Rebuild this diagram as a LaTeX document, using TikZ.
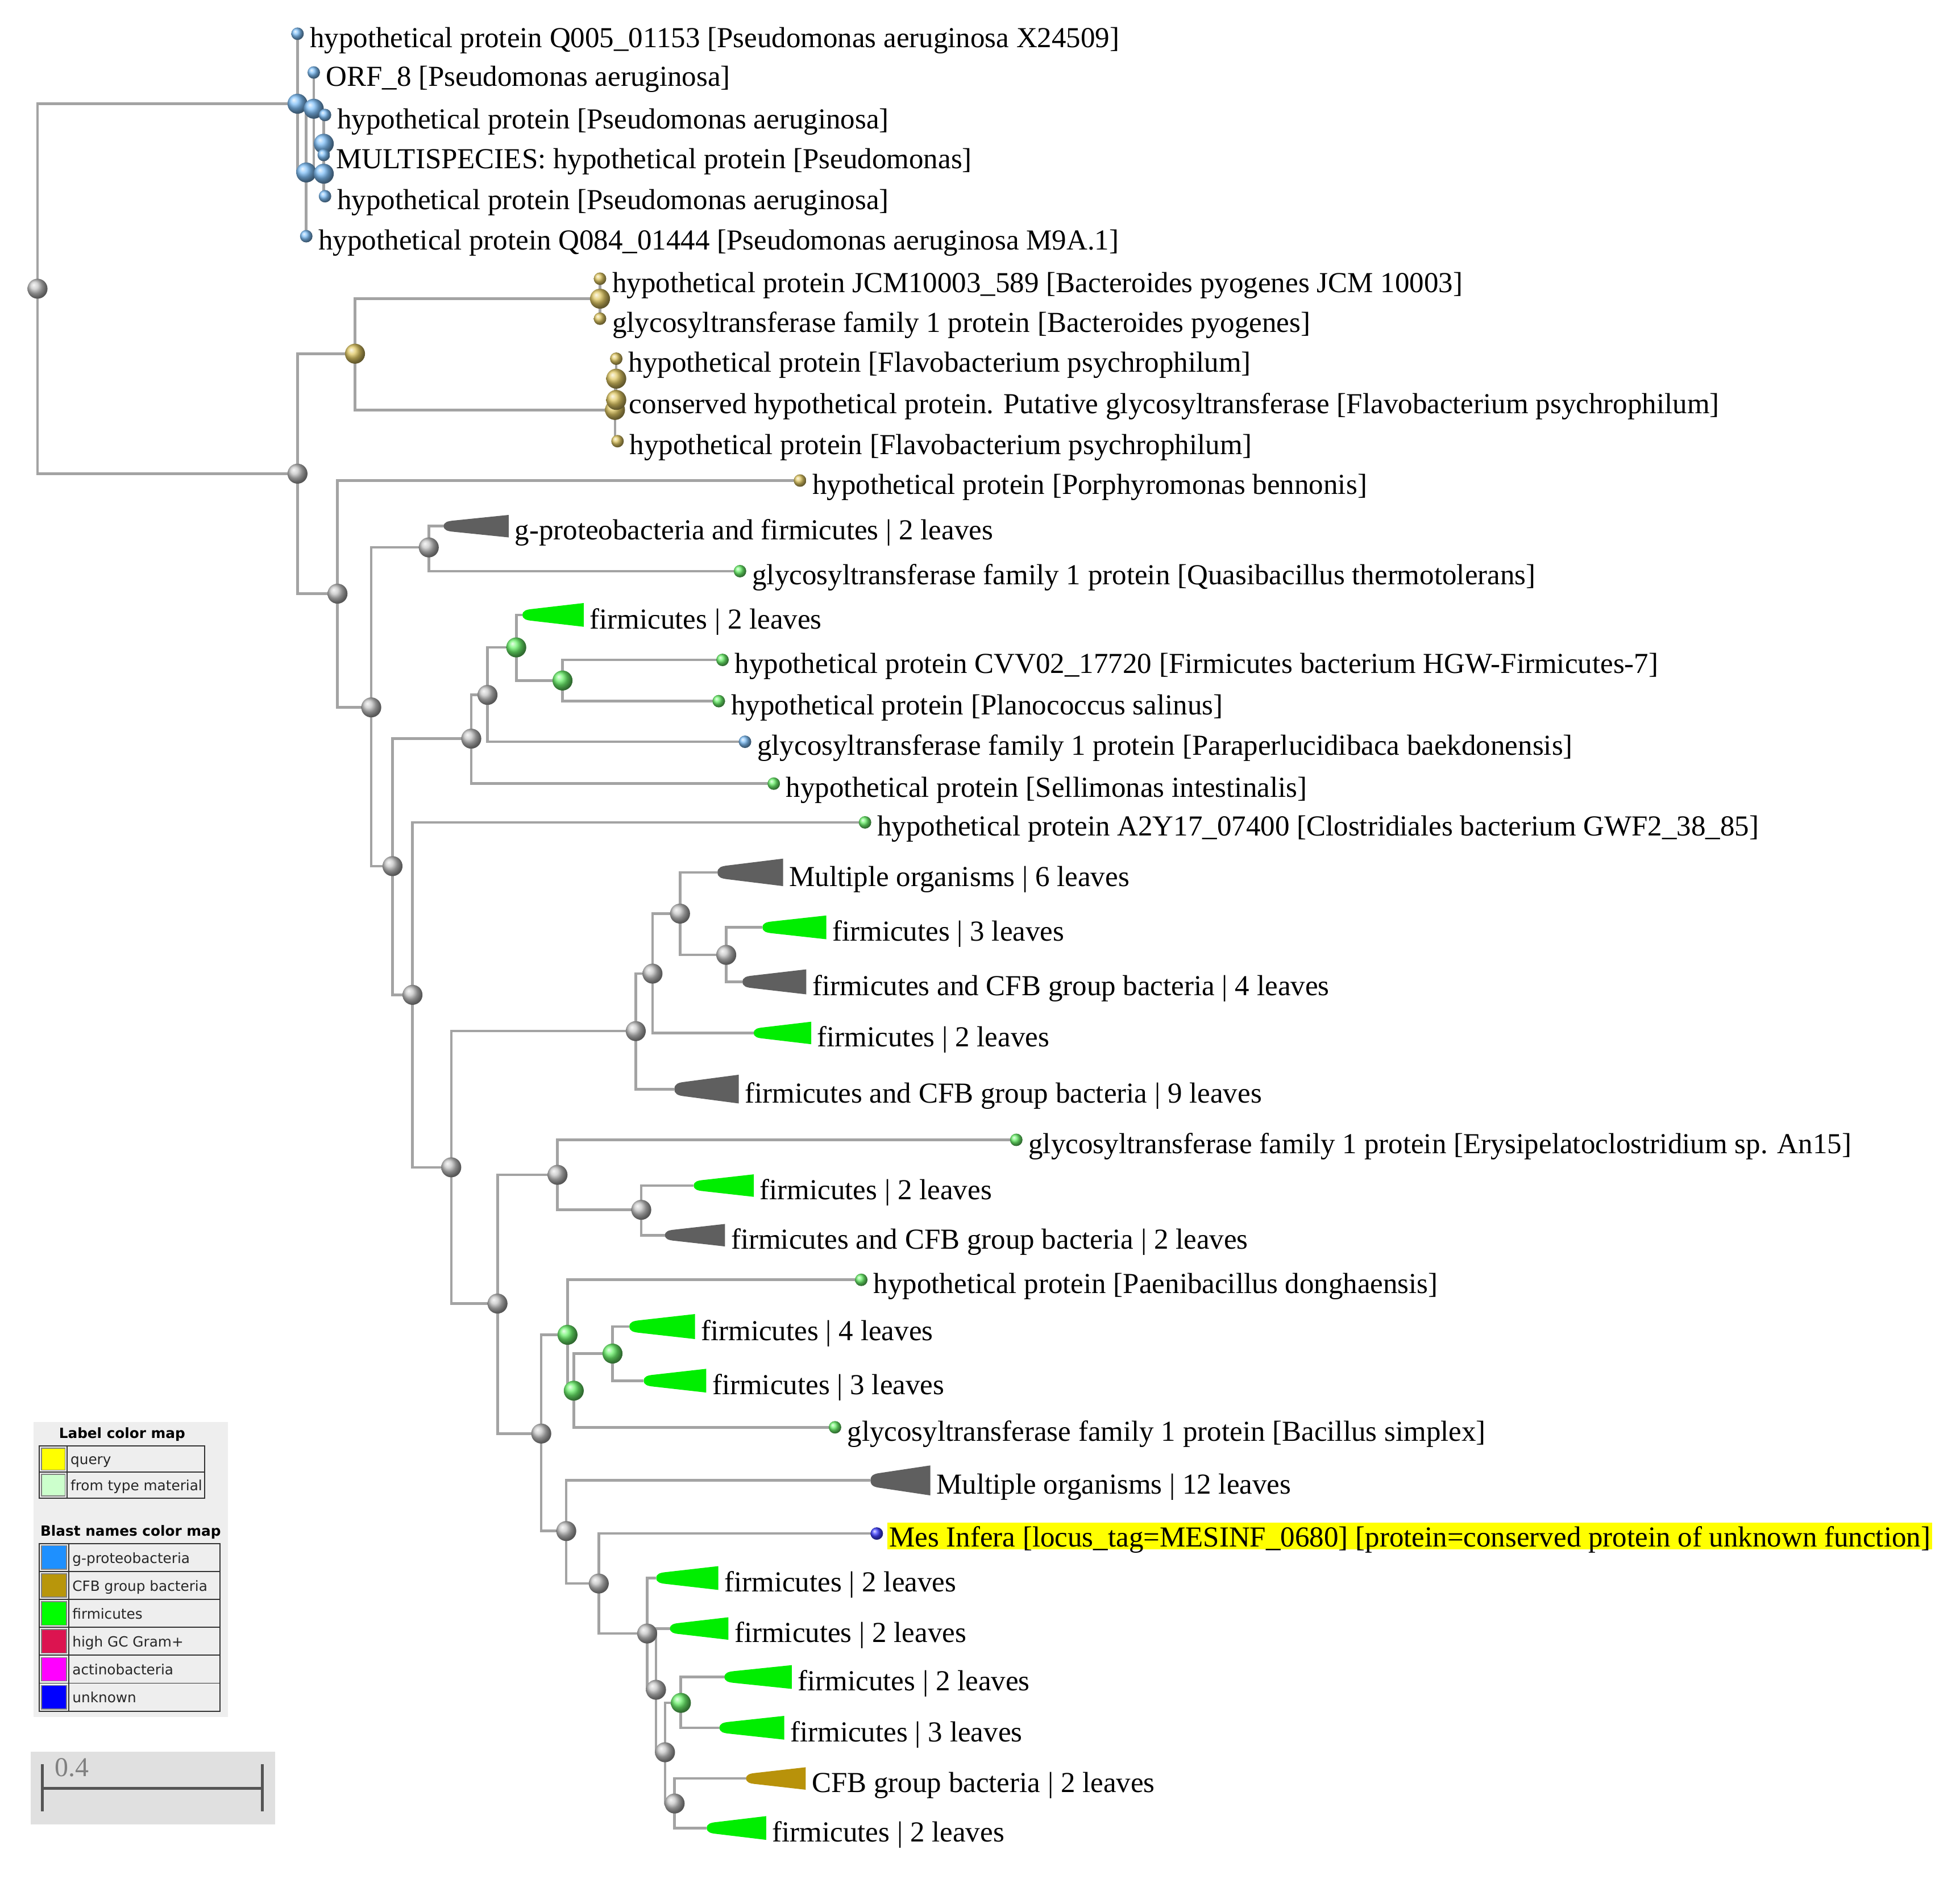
\documentclass[tikz,border=0pt]{standalone}
\usepackage{fontspec}
\setmainfont{Liberation Serif}
\newfontfamily\legendfont{DejaVu Sans}
\usepackage{xcolor}
\definecolor{branchGray}{HTML}{A3A3A3}
\definecolor{cladeGray}{HTML}{5F5F5F}
\definecolor{cladeGreen}{HTML}{00EE00}
\definecolor{cladeGold}{HTML}{B8920A}
\definecolor{ballBlue}{HTML}{80C0F8}
\definecolor{ballGold}{HTML}{E0C864}
\definecolor{ballGreen}{HTML}{6CF26C}
\definecolor{ballGray}{HTML}{C4C4C4}
\definecolor{ballNavy}{HTML}{4040FF}
\definecolor{queryYellow}{HTML}{FFFF00}
\definecolor{typeGreen}{HTML}{CCFFCC}
\definecolor{gproBlue}{HTML}{1E90FF}
\definecolor{cfbGold}{HTML}{B8960B}
\definecolor{firmGreen}{HTML}{00FF00}
\definecolor{highGC}{HTML}{DC1450}
\definecolor{actinoPink}{HTML}{FF00FF}
\definecolor{unknownBlue}{HTML}{0000FF}
\definecolor{legendBg}{HTML}{EEEEEE}
\definecolor{scaleBg}{HTML}{E0E0E0}
\definecolor{scaleDark}{HTML}{555555}
\usetikzlibrary{backgrounds,calc}
\newcommand{\treefont}{\fontsize{13.2}{15}\selectfont}
\newcommand{\legfont}{\legendfont\fontsize{6.4}{8}\selectfont}
\tikzset{%
  branch/.style={%
    draw=branchGray,
    line width=1.2pt
  },
  inball/.style={%
    circle,
    inner sep=0pt,
    minimum size=0.32cm,
    shading=ball,
    ball color=#1
  },
  lfball/.style={%
    circle,
    inner sep=0pt,
    minimum size=0.2cm,
    shading=ball,
    ball color=#1
  },
  leaftext/.style={%
    anchor=base west,
    inner sep=0pt,
    font=\treefont
  },
  legtext/.style={%
    anchor=base west,
    inner sep=0pt,
    font=\legfont,
    text=black!85
  },
  tableline/.style={%
    draw=black!80,
    line width=0.5pt
  },
  scaleBar/.style={%
    draw=scaleDark,
    line width=1.4pt
  }
}
% leaf: name, ball colour, x, y, text
\newcommand{\treeleaf}[5]{%
  \node[lfball=#2] (#1) at (#3,#4) {};
  \node[leaftext] (#1-t) at (#3+9.5,#4+10.8) {#5};}
% collapsed clade: name, colour, tip x, y, right x, half height, text
\newcommand{\collapsed}[7]{%
  \coordinate (#1) at (#3,#4);
  \fill[#2] (#1) .. controls (#3,#4-0.35*#6) and (#3+3,#4-0.45*#6) .. (#3+8,#4-0.5*#6)
    -- (#5,#4-#6) -- (#5,#4+#6) -- (#3+8,#4+0.5*#6)
    .. controls (#3+3,#4+0.45*#6) and (#3,#4+0.35*#6) .. (#1) -- cycle;
  \node[leaftext] (#1-t) at (#5+4.5,#4+11) {#7};}

\begin{document}
\begin{tikzpicture}[x=0.02cm, y=-0.02cm]
  \useasboundingbox (0,0) rectangle (1568,1503);

  % inner nodes
  \node[inball=ballGray] (root) at (30,231) {};
  \node[inball=ballBlue] (pA) at (238,83) {};
  \node[inball=ballBlue] (pD) at (245,138) {};
  \node[inball=ballBlue] (pB) at (251,87) {};
  \node[inball=ballBlue] (pE) at (259,139) {};
  \node[inball=ballBlue] (pC) at (259,115) {};
  \node[inball=ballGray] (n1) at (238,379) {};
  \node[inball=ballGold] (gG) at (284,283) {};
  \node[inball=ballGold] (gJ) at (480,239) {};
  \node[inball=ballGold] (gF) at (492,328) {};
  \node[inball=ballGold] (gF2) at (493,303) {};
  \node[inball=ballGray] (n2) at (270,475) {};
  \node[inball=ballGray] (n3) at (297,566) {};
  \node[inball=ballGray] (n4) at (343,438) {};
  \node[inball=ballGray] (n5) at (314,693) {};
  \node[inball=ballGray] (n6) at (377,591) {};
  \node[inball=ballGray] (n8) at (390,556) {};
  \node[inball=ballGreen] (G1) at (413,518) {};
  \node[inball=ballGreen] (G2) at (450,544.5) {};
  \node[inball=ballGray] (n7) at (330,796) {};
  \node[inball=ballGray] (n9) at (361,934) {};
  \node[inball=ballGray] (n10) at (508.6,825) {};
  \node[inball=ballGray] (n12) at (522,779) {};
  \node[inball=ballGray] (n13) at (544,731) {};
  \node[inball=ballGray] (n14) at (581,764) {};
  \node[inball=ballGray] (n11) at (398,1043) {};
  \node[inball=ballGray] (n15) at (446,940) {};
  \node[inball=ballGray] (n17) at (513,968) {};
  \node[inball=ballGray] (n16) at (433,1147) {};
  \node[inball=ballGreen] (G3) at (454,1068) {};
  \node[inball=ballGreen] (G4) at (459,1112.7) {};
  \node[inball=ballGreen] (G5) at (490,1083) {};
  \node[inball=ballGray] (n18) at (453,1225) {};
  \node[inball=ballGray] (n19) at (479,1267) {};
  \node[inball=ballGray] (n20) at (517.7,1307) {};
  \node[inball=ballGray] (n21) at (524.8,1352) {};
  \node[inball=ballGray] (n22) at (532,1402) {};
  \node[inball=ballGreen] (G6) at (544.7,1362.5) {};
  \node[inball=ballGray] (n23) at (539.7,1443) {};

  % leaves
  \treeleaf{bQ005}{ballBlue}{238}{27}{hypothetical protein Q005\_01153 [Pseudomonas aeruginosa X24509]}
  \treeleaf{bORF}{ballBlue}{251}{58}{ORF\_8 [Pseudomonas aeruginosa]}
  \treeleaf{bH1}{ballBlue}{260}{92}{hypothetical protein [Pseudomonas aeruginosa]}
  \treeleaf{bMS}{ballBlue}{259}{124}{MULTISPECIES: hypothetical protein [Pseudomonas]}
  \treeleaf{bH2}{ballBlue}{260}{157}{hypothetical protein [Pseudomonas aeruginosa]}
  \treeleaf{bQ084}{ballBlue}{245}{189}{hypothetical protein Q084\_01444 [Pseudomonas aeruginosa M9A.1]}
  \treeleaf{gJ1}{ballGold}{480}{223}{hypothetical protein JCM10003\_589 [Bacteroides pyogenes JCM 10003]}
  \treeleaf{gJ2}{ballGold}{480}{255}{glycosyltransferase family 1 protein [Bacteroides pyogenes]}
  \treeleaf{gL1}{ballGold}{493}{287}{hypothetical protein [Flavobacterium psychrophilum]}
  \node[inball=ballGold] (gL2) at (493,320) {};
  \node[leaftext] (gL2-t) at (503,331) {conserved hypothetical protein. Putative glycosyltransferase [Flavobacterium psychrophilum]};
  \treeleaf{gL3}{ballGold}{494}{353}{hypothetical protein [Flavobacterium psychrophilum]}
  \treeleaf{gPorph}{ballGold}{640}{384.5}{hypothetical protein [Porphyromonas bennonis]}
  \treeleaf{gQuasi}{ballGreen}{592}{457}{glycosyltransferase family 1 protein [Quasibacillus thermotolerans]}
  \treeleaf{gCVV}{ballGreen}{578}{528}{hypothetical protein CVV02\_17720 [Firmicutes bacterium HGW-Firmicutes-7]}
  \treeleaf{gPlano}{ballGreen}{575}{561}{hypothetical protein [Planococcus salinus]}
  \treeleaf{bPara}{ballBlue}{596}{593.5}{glycosyltransferase family 1 protein [Paraperlucidibaca baekdonensis]}
  \treeleaf{gSell}{ballGreen}{619}{627}{hypothetical protein [Sellimonas intestinalis]}
  \treeleaf{gA2Y}{ballGreen}{692}{658}{hypothetical protein A2Y17\_07400 [Clostridiales bacterium GWF2\_38\_85]}
  \treeleaf{gErys}{ballGreen}{813}{912}{glycosyltransferase family 1 protein [Erysipelatoclostridium sp. An15]}
  \treeleaf{gPaeni}{ballGreen}{689}{1024}{hypothetical protein [Paenibacillus donghaensis]}
  \treeleaf{gBsimp}{ballGreen}{668}{1142}{glycosyltransferase family 1 protein [Bacillus simplex]}
  \treeleaf{uMes}{ballNavy}{701.4}{1227}{Mes Infera [locus\_tag=MESINF\_0680] [protein=conserved protein of unknown function]}

  % collapsed clades
  \collapsed{T1}{cladeGray}{355}{421}{407}{9}{g-proteobacteria and firmicutes | 2 leaves}
  \collapsed{T2}{cladeGreen}{418}{492}{467}{9.5}{firmicutes | 2 leaves}
  \collapsed{T3}{cladeGray}{574}{698}{626.5}{11}{Multiple organisms | 6 leaves}
  \collapsed{T4}{cladeGreen}{610}{742}{661}{9.5}{firmicutes | 3 leaves}
  \collapsed{T5}{cladeGray}{594}{785.6}{645}{10}{firmicutes and CFB group bacteria | 4 leaves}
  \collapsed{T6}{cladeGreen}{603}{826.5}{649}{9}{firmicutes | 2 leaves}
  \collapsed{T7}{cladeGray}{539.5}{871.4}{591}{11.5}{firmicutes and CFB group bacteria | 9 leaves}
  \collapsed{T8}{cladeGreen}{555}{948.6}{603}{9}{firmicutes | 2 leaves}
  \collapsed{T9}{cladeGray}{532}{988.3}{580}{9}{firmicutes and CFB group bacteria | 2 leaves}
  \collapsed{T10}{cladeGreen}{503.5}{1061.4}{556}{10}{firmicutes | 4 leaves}
  \collapsed{T11}{cladeGreen}{515}{1104.7}{565}{9.5}{firmicutes | 3 leaves}
  \collapsed{T12}{cladeGray}{696.4}{1184.5}{744.3}{12}{Multiple organisms | 12 leaves}
  \collapsed{T13}{cladeGreen}{525}{1262.6}{574.6}{9.5}{firmicutes | 2 leaves}
  \collapsed{T14}{cladeGreen}{536}{1303}{582.7}{9}{firmicutes | 2 leaves}
  \collapsed{T15}{cladeGreen}{579.6}{1341.8}{633.4}{9.5}{firmicutes | 2 leaves}
  \collapsed{T16}{cladeGreen}{575.6}{1382.4}{627.4}{9.5}{firmicutes | 3 leaves}
  \collapsed{T17}{cladeGold}{596.9}{1423}{644.6}{9}{CFB group bacteria | 2 leaves}
  \collapsed{T18}{cladeGreen}{565.4}{1462.6}{613}{9.5}{firmicutes | 2 leaves}

  % branches behind the balls
  \begin{scope}[on background layer]
    \foreach \p/\c in {root/pA, root/n1,
        pA/bQ005, pA/pD, pD/pB, pD/bQ084, pB/bORF, pB/pE, pE/pC, pE/bH2, pC/bH1, pC/bMS,
        n1/gG, n1/n2, gG/gJ, gG/gF, gJ/gJ1, gJ/gJ2, gF/gF2, gF/gL3, gF2/gL1, gF2/gL2,
        n2/gPorph, n2/n3, n3/n4, n3/n5, n4/T1, n4/gQuasi, n5/n6, n5/n7, n6/n8, n6/gSell,
        n8/G1, n8/bPara, G1/T2, G1/G2, G2/gCVV, G2/gPlano,
        n7/gA2Y, n7/n9, n9/n10, n9/n11, n10/n12, n10/T7, n12/n13, n12/T6, n13/T3, n13/n14,
        n14/T4, n14/T5, n11/n15, n11/n16, n15/gErys, n15/n17, n17/T8, n17/T9,
        n16/G3, n16/n18, G3/gPaeni, G3/G4, G4/G5, G4/gBsimp, G5/T10, G5/T11,
        n18/T12, n18/n19, n19/uMes, n19/n20, n20/T13, n20/n21, n21/T14, n21/n22,
        n22/G6, n22/n23, G6/T15, G6/T16, n23/T17, n23/T18}
      \draw[branch] (\p.center) |- (\c.center);
    \fill[queryYellow] ($(uMes-t.base west)+(-1,-19.3)$) rectangle ($(uMes-t.base east)+(1,1.7)$);
  \end{scope}

  % legend
  \fill[legendBg] (26.8,1137.7) rectangle (182.2,1373.8);
  \node[font=\legendfont\bfseries\fontsize{6.4}{8}\selectfont, anchor=base, inner sep=0pt] (mapLabel) at (97.7,1150.9) {Label color map};
  \draw[tableline] (31.2,1156.8) rectangle (163.9,1198.6);
  \draw[tableline] (31.2,1178) -- (163.9,1178);
  \draw[tableline] (53.5,1156.8) -- (53.5,1198.6);
  \filldraw[fill=queryYellow, draw=gray, line width=0.4pt] (33.2,1158.6) rectangle (52,1176.2);
  \filldraw[fill=typeGreen, draw=gray, line width=0.4pt] (33.2,1179.6) rectangle (52,1197);
  \node[legtext] (legQuery) at (56.1,1171.8) {query};
  \node[legtext] (legType) at (56.1,1192.7) {from type material};
  \node[font=\legendfont\bfseries\fontsize{6.4}{8}\selectfont, anchor=base west, inner sep=0pt] (mapBlast) at (32,1229) {Blast names color map};
  \foreach \fillc/\txt [count=\i from 0] in {gproBlue/g-proteobacteria, cfbGold/CFB group bacteria,
      firmGreen/firmicutes, highGC/high GC Gram+, actinoPink/actinobacteria, unknownBlue/unknown}{
    \draw[tableline] (31.2,1235+22.35*\i) rectangle (176.1,1257.35+22.35*\i);
    \draw[tableline] (55,1235+22.35*\i) -- (55,1257.35+22.35*\i);
    \filldraw[fill=\fillc, draw=gray, line width=0.4pt] (33.2,1236.8+22.35*\i) rectangle (53.3,1255.6+22.35*\i);
    \node[legtext] (blast\i) at (57.6,1250.6+22.35*\i) {\txt};
  }

  % scale bar
  \fill[scaleBg] (24.4,1401.7) rectangle (220.2,1459.6);
  \node[font=\fontsize{12.4}{14}\selectfont, text=gray, anchor=base west, inner sep=0pt] (scaleLabel) at (43.7,1421.5) {0.4};
  \coordinate (sbL) at (34,1431);
  \coordinate (sbR) at (210,1431);
  \draw[scaleBar] (sbL) -- (sbR);
  \draw[scaleBar] ($(sbL)+(0,-19.4)$) -- ($(sbL)+(0,18.4)$);
  \draw[scaleBar] ($(sbR)+(0,-19.4)$) -- ($(sbR)+(0,18.4)$);
\end{tikzpicture}
\end{document}
